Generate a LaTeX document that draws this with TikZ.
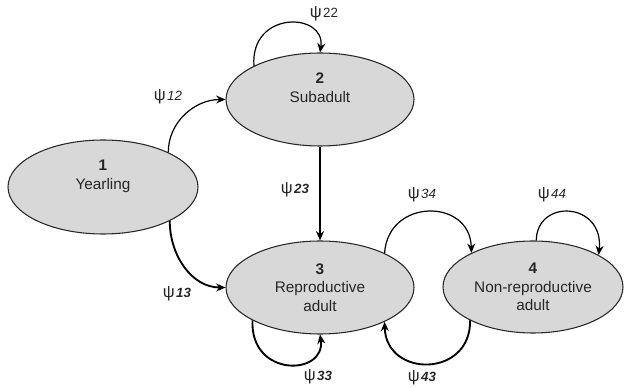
\documentclass[tikz,border=0pt]{standalone}
\usepackage{fontspec}
\setmainfont{Liberation Sans}
\usetikzlibrary{shapes.geometric,arrows.meta}
\definecolor{statefill}{RGB}{216,216,216}
\definecolor{edge}{RGB}{40,40,40}
\tikzset{
  state/.style={ellipse, draw=edge, line width=0.8pt, fill=statefill, inner sep=0pt,
    align=center, font=\fontsize{11.5}{14}\selectfont, text=black!85},
  arr/.style={draw=black, line width=0.9pt, -{Stealth[length=7pt,width=6pt]}},
  arrb/.style={draw=black, line width=1.4pt, -{Stealth[length=7pt,width=6pt]}},
  psi/.style={font=\fontsize{12.5}{14}\selectfont, text=black!85, inner sep=0pt},
}
\newcommand{\psub}[1]{ψ\kern1pt{\fontsize{10}{12}\selectfont\itshape #1}}
\newcommand{\psubb}[1]{ψ\kern1pt{\fontsize{10}{12}\selectfont\bfseries\itshape #1}}
\newcommand{\psubu}[1]{ψ\kern1pt{\fontsize{10}{12}\selectfont #1}}
\begin{document}
\begin{tikzpicture}[x=0.75pt,y=-0.75pt]
\useasboundingbox (0,0) rectangle (625,388);
% states
\node[state, minimum width=142.5pt, minimum height=70.5pt] (n1) at (103,187) {\textbf{1}\\Yearling\\\strut};
\node[state, minimum width=141pt, minimum height=69.75pt] (n2) at (320,99.5) {\textbf{2}\\Subadult\\\strut};
\node[state, minimum width=141pt, minimum height=69.75pt] (n3) at (320,287.5) {\textbf{3}\\Reproductive\\adult};
\node[state, minimum width=135pt, minimum height=69pt] (n4) at (533,287) {\textbf{4}\\Non-reproductive\\adult};
% transitions
\draw[arr] (n1.28) to[out=90,in=180] (n2.west);
\draw[arrb] (n1.-27) to[out=-90,in=180] (n3.west);
\draw[arrb] (n2.south) -- (n3.north);
\draw[arr] (n2.153) .. controls (250,10) and (326,12) .. (n2.north);
\draw[arrb] (n3.206) .. controls (250,378) and (326,376) .. (n3.south);
\draw[arr] (n3.28) .. controls (388,198) and (470,198) .. (n4.151);
\draw[arrb] (n4.208) .. controls (471,378) and (386,378) .. (n3.-28);
\draw[arr] (n4.86) .. controls (537,198) and (604,202) .. (n4.26);
% labels
\node[psi] (l12) at (168,97) {\psub{12}};
\node[psi] (l22) at (324,14) {\psubu{22}};
\node[psi] (l23) at (295,190) {\psubb{23}};
\node[psi] (l13) at (177,294) {\psubb{13}};
\node[psi] (l33) at (318,377) {\psubb{33}};
\node[psi] (l43) at (422,378) {\psubb{43}};
\node[psi] (l34) at (422,195) {\psub{34}};
\node[psi] (l44) at (552,195) {\psub{44}};
\end{tikzpicture}
\end{document}
